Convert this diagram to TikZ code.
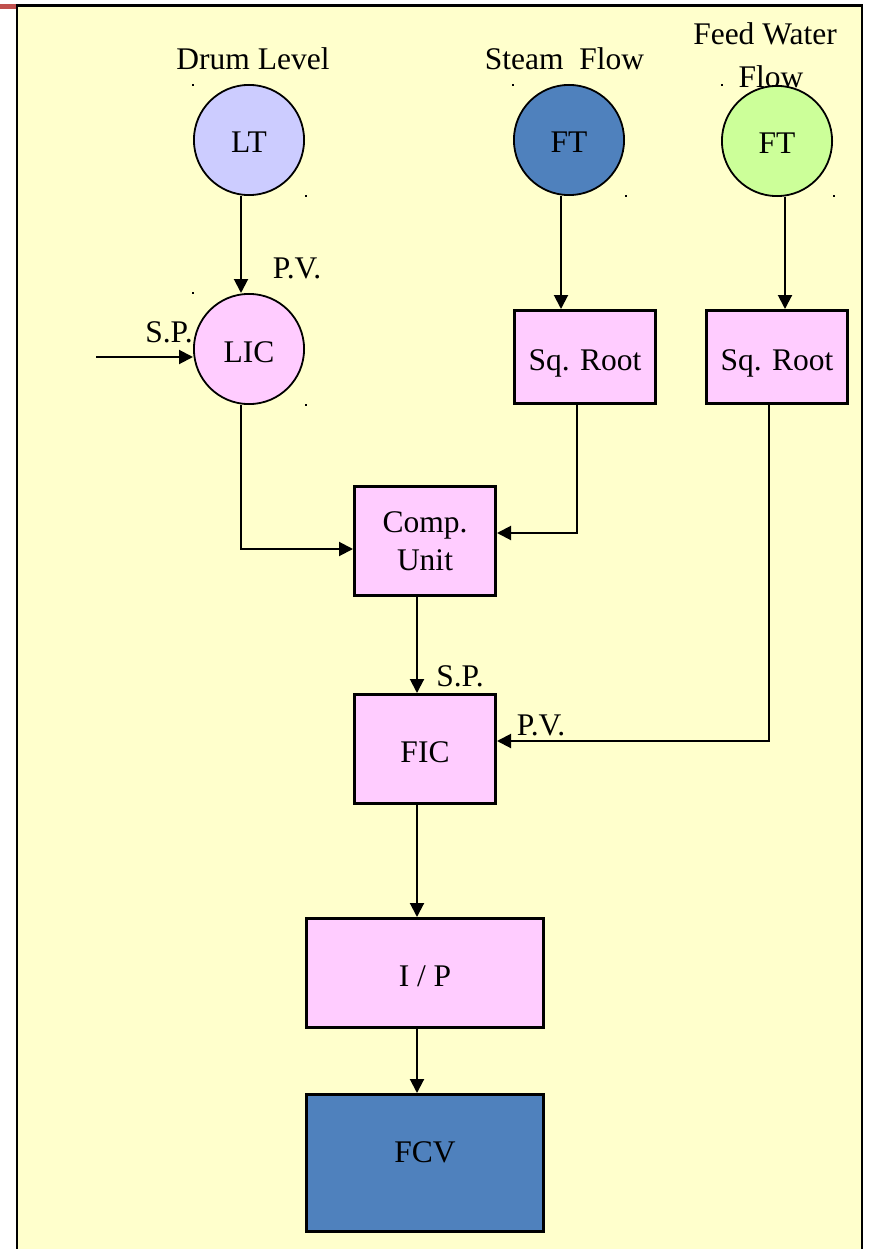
\documentclass[tikz,border=0pt]{standalone}
\usepackage{fontspec}
\setmainfont{Liberation Serif}
\usetikzlibrary{calc,arrows.meta}
\definecolor{bgyellow}{HTML}{FFFFCC}
\definecolor{ltblue}{HTML}{CCCCFF}
\definecolor{midblue}{HTML}{4F81BD}
\definecolor{ltgreen}{HTML}{CCFF99}
\definecolor{pinkbox}{HTML}{FFCCFF}
\definecolor{slidered}{HTML}{C0504D}
\begin{document}
\begin{tikzpicture}[x=1pt,y=-1pt,
  txt/.style={font=\fontsize{31.5}{37.7}\selectfont,inner sep=0pt},
  lbl/.style={txt,anchor=base},
  tb/.style={text height=26pt,text depth=0pt},
  circ/.style={txt,tb,circle,draw=black,line width=1.8pt,minimum size=110.2pt},
  blk/.style={txt,rectangle,draw=black,line width=2.6pt,fill=pinkbox},
  conn/.style={line width=2pt,-{Triangle[length=14pt,width=14pt]}}]
\useasboundingbox (0,0) rectangle (869,1249);
\fill[white] (0,0) rectangle (869,1249);
\draw[line width=2.6pt,fill=bgyellow] (17,5.3) rectangle (862,1270);
\fill[slidered] (0,4.3) rectangle (16,8.7);

% titles
\node[lbl] (tdl) at (253,70) {Drum Level};
\node[lbl] (tsf) at (564.5,70) {Steam~~Flow};
\node[lbl] (tfw1) at (765,45) {Feed Water};
\node[lbl] (tfw2) at (771,87.5) {Flow};

% instruments
\node[circ,fill=ltblue] (LT) at (249,140) {LT};
\node[circ,fill=midblue] (FTs) at (569,140) {FT};
\node[circ,fill=ltgreen] (FTw) at (777,141) {FT};
\node[circ,fill=pinkbox] (LIC) at (249,349) {LIC};

% blocks
\node[blk,tb,minimum width=141.4pt,minimum height=93.4pt] (SQ1) at (585,357) {Sq. Root};
\node[blk,tb,minimum width=141.4pt,minimum height=93.4pt] (SQ2) at (777,357) {Sq. Root};
\node[blk,align=center,minimum width=141.4pt,minimum height=109.4pt] (COMP) at (425,541) {Comp.\\Unit};
\node[blk,tb,minimum width=141.4pt,minimum height=109.4pt] (FIC) at (425,749) {FIC};
\node[blk,tb,minimum width=237.4pt,minimum height=109.4pt] (IP) at (425,973) {I / P};
\node[blk,fill=midblue,text height=26pt,text depth=27pt,minimum width=237.4pt,minimum height=137.4pt] (FCV) at (425,1163) {FCV};

% small marks
\foreach \x/\y in {193/85,305.5/196.5,513/85,625.5/196.5,721.5/85,833.5/196.5,193/292.5,305.5/404.5}
  \fill (\x-1,\y-1) rectangle ++(2,2);

% connectors
\coordinate (ltout) at ($(LT.south)+(-8,0)$);
\draw[conn] (ltout) -- (ltout |- LIC.north);
\coordinate (spin) at (96,357);
\draw[conn] (spin) -- (spin -| LIC.west);
\coordinate (ftsout) at ($(FTs.south)+(-8,0)$);
\draw[conn] (ftsout) -- (ftsout |- SQ1.north);
\coordinate (ftwout) at ($(FTw.south)+(8,0)$);
\draw[conn] (ftwout) -- (ftwout |- SQ2.north);
\draw[conn] ($(LIC.south)+(-8,0)$) |- ($(COMP.west)+(0,8)$);
\draw[conn] ($(SQ1.south)+(-8,0)$) |- ($(COMP.east)+(0,-8)$);
\draw[conn] ($(COMP.south)+(-8,0)$) -- ($(FIC.north)+(-8,0)$);
\draw[conn] ($(SQ2.south)+(-8,0)$) |- ($(FIC.east)+(0,-8)$);
\draw[conn] ($(FIC.south)+(-8,0)$) -- ($(IP.north)+(-8,0)$);
\draw[conn] ($(IP.south)+(-8,0)$) -- ($(FCV.north)+(-8,0)$);

% signal labels
\node[lbl] (pv1) at (297,278) {P.V.};
\node[lbl] (sp1) at (169,342.7) {S.P.};
\node[lbl] (sp2) at (460,686) {S.P.};
\node[lbl] (pv2) at (541,735) {P.V.};
\end{tikzpicture}
\end{document}
